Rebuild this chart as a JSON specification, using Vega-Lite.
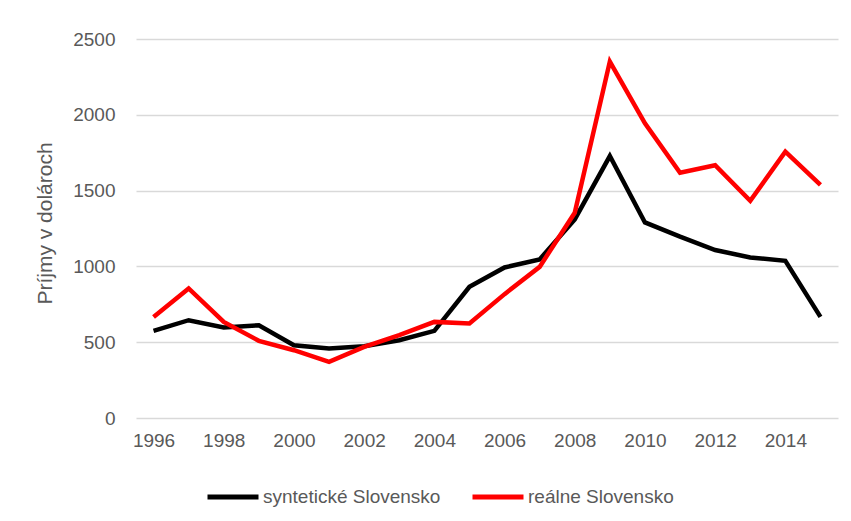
{
  "$schema": "https://vega.github.io/schema/vega-lite/v6.json",
  "width": 702,
  "height": 379,
  "autosize": {"type": "none"},
  "padding": {"left": 136, "top": 39, "right": 13, "bottom": 103},
  "background": "white",
  "config": {
    "view": {"stroke": null},
    "font": "Liberation Sans",
    "axis": {"labelColor": "#595959", "titleColor": "#595959", "labelFont": "Liberation Sans", "titleFont": "Liberation Sans"},
    "legend": {"labelColor": "#595959", "labelFont": "Liberation Sans"}
  },
  "data": {
    "values": [
      {"year": 1996, "series": "syntetické Slovensko", "value": 575},
      {"year": 1997, "series": "syntetické Slovensko", "value": 645},
      {"year": 1998, "series": "syntetické Slovensko", "value": 597},
      {"year": 1999, "series": "syntetické Slovensko", "value": 612},
      {"year": 2000, "series": "syntetické Slovensko", "value": 480},
      {"year": 2001, "series": "syntetické Slovensko", "value": 458},
      {"year": 2002, "series": "syntetické Slovensko", "value": 474},
      {"year": 2003, "series": "syntetické Slovensko", "value": 513},
      {"year": 2004, "series": "syntetické Slovensko", "value": 575},
      {"year": 2005, "series": "syntetické Slovensko", "value": 865},
      {"year": 2006, "series": "syntetické Slovensko", "value": 993},
      {"year": 2007, "series": "syntetické Slovensko", "value": 1046},
      {"year": 2008, "series": "syntetické Slovensko", "value": 1310},
      {"year": 2009, "series": "syntetické Slovensko", "value": 1728},
      {"year": 2010, "series": "syntetické Slovensko", "value": 1290},
      {"year": 2011, "series": "syntetické Slovensko", "value": 1196},
      {"year": 2012, "series": "syntetické Slovensko", "value": 1108},
      {"year": 2013, "series": "syntetické Slovensko", "value": 1059},
      {"year": 2014, "series": "syntetické Slovensko", "value": 1037},
      {"year": 2015, "series": "syntetické Slovensko", "value": 667},
      {"year": 1996, "series": "reálne Slovensko", "value": 667},
      {"year": 1997, "series": "reálne Slovensko", "value": 855},
      {"year": 1998, "series": "reálne Slovensko", "value": 634},
      {"year": 1999, "series": "reálne Slovensko", "value": 509},
      {"year": 2000, "series": "reálne Slovensko", "value": 447},
      {"year": 2001, "series": "reálne Slovensko", "value": 370},
      {"year": 2002, "series": "reálne Slovensko", "value": 469},
      {"year": 2003, "series": "reálne Slovensko", "value": 546},
      {"year": 2004, "series": "reálne Slovensko", "value": 634},
      {"year": 2005, "series": "reálne Slovensko", "value": 623},
      {"year": 2006, "series": "reálne Slovensko", "value": 817},
      {"year": 2007, "series": "reálne Slovensko", "value": 997},
      {"year": 2008, "series": "reálne Slovensko", "value": 1354},
      {"year": 2009, "series": "reálne Slovensko", "value": 2351},
      {"year": 2010, "series": "reálne Slovensko", "value": 1944},
      {"year": 2011, "series": "reálne Slovensko", "value": 1618},
      {"year": 2012, "series": "reálne Slovensko", "value": 1667},
      {"year": 2013, "series": "reálne Slovensko", "value": 1433},
      {"year": 2014, "series": "reálne Slovensko", "value": 1757},
      {"year": 2015, "series": "reálne Slovensko", "value": 1537}
    ]
  },
  "mark": {"type": "line", "strokeWidth": 4.5, "strokeJoin": "miter", "strokeCap": "butt"},
  "encoding": {
    "x": {
      "field": "year",
      "type": "ordinal",
      "scale": {"type": "point", "padding": 0.5},
      "axis": {
        "title": null,
        "labelAngle": 0,
        "labelFontSize": 19,
        "labelPadding": 13,
        "ticks": false,
        "domain": false,
        "grid": false,
        "labelExpr": "datum.value % 2 == 0 ? datum.label : ''"
      }
    },
    "y": {
      "field": "value",
      "type": "quantitative",
      "scale": {"domain": [0, 2500], "nice": false, "zero": true},
      "axis": {
        "values": [0, 500, 1000, 1500, 2000, 2500],
        "format": "d",
        "title": "Príjmy v dolároch",
        "titleFontSize": 21,
        "titleFontWeight": "normal",
        "titleAngle": -90,
        "titleX": -91,
        "titleY": 184,
        "titleAlign": "center",
        "titleBaseline": "middle",
        "labelFontSize": 19,
        "labelPadding": 21,
        "ticks": false,
        "domain": false,
        "grid": true,
        "gridColor": "#d9d9d9",
        "gridWidth": 1.5
      }
    },
    "color": {
      "field": "series",
      "type": "nominal",
      "scale": {"domain": ["syntetické Slovensko", "reálne Slovensko"], "range": ["#000000", "#ff0000"]},
      "legend": {
        "title": null,
        "orient": "none",
        "direction": "horizontal",
        "legendX": 69,
        "legendY": 430,
        "symbolType": "stroke",
        "symbolSize": 2601,
        "symbolStrokeWidth": 5,
        "labelFontSize": 19,
        "labelOffset": 2,
        "labelLimit": 0,
        "columnPadding": 21
      }
    }
  }
}
